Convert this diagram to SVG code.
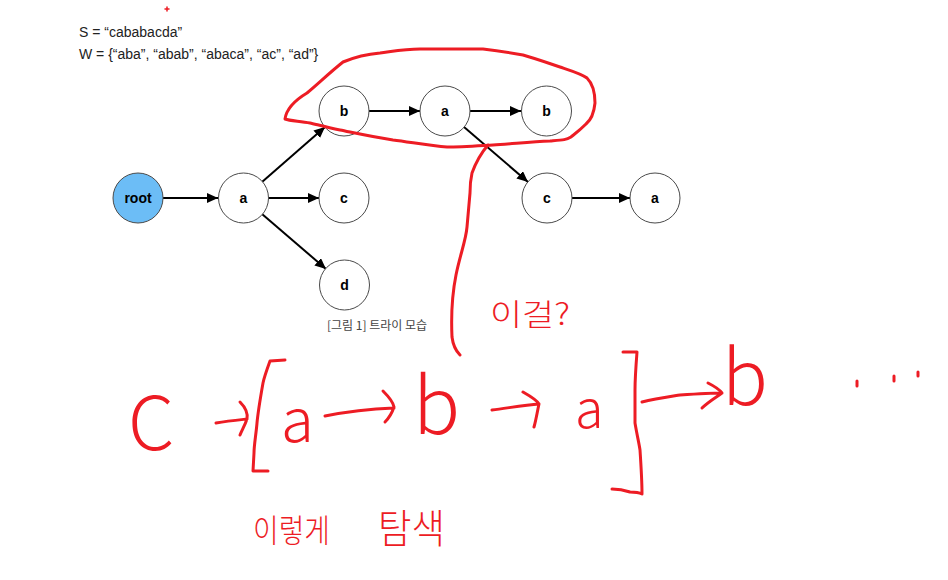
<svg xmlns="http://www.w3.org/2000/svg" width="948" height="580" viewBox="0 0 948 580">
<defs>
<marker id="ah" markerUnits="userSpaceOnUse" markerWidth="11" markerHeight="10" refX="11" refY="5" orient="auto">
<path d="M0,0 L11,5 L0,10 z" fill="#000"/>
</marker>
<style>
.node circle{fill:#fff;stroke:#4a4a4a;stroke-width:1}
.node text{font-family:"Liberation Sans",Arial,sans-serif;font-size:14px;font-weight:bold;fill:#000;text-anchor:middle;dominant-baseline:central}
.edge{stroke:#000;stroke-width:2;fill:none;marker-end:url(#ah)}
.hd{font-family:"Liberation Sans",Arial,sans-serif;font-size:14px;fill:#222}
.red{stroke:#ED1C24;stroke-width:3;fill:none;stroke-linecap:round;stroke-linejoin:round}
.hw{font-family:"Noto Sans CJK KR","Noto Sans",sans-serif;font-weight:300;fill:#ED1C24}
</style>
</defs>
<rect width="948" height="580" fill="#fff"/>
<text class="hd" x="79" y="37">S = “cababacda”</text>
<text class="hd" x="79" y="59">W = {“aba”, “abab”, “abaca”, “ac”, “ad”}</text>
<g id="edges">
<line class="edge" x1="163" y1="198" x2="218" y2="198"/>
<line class="edge" x1="262" y1="182" x2="325" y2="127"/>
<line class="edge" x1="268" y1="198" x2="319" y2="198"/>
<line class="edge" x1="262" y1="214" x2="326" y2="269"/>
<line class="edge" x1="369" y1="111" x2="420" y2="111"/>
<line class="edge" x1="470" y1="111" x2="521" y2="111"/>
<line class="edge" x1="464" y1="127" x2="528" y2="182"/>
<line class="edge" x1="572" y1="198" x2="630" y2="198"/>
</g>
<g id="n-root" class="node"><circle cx="138" cy="198" r="25" style="fill:#6CBDF6"/><text x="138" y="198">root</text></g>
<g id="n-a" class="node"><circle cx="243.5" cy="198" r="25"/><text x="243.5" y="198">a</text></g>
<g id="n-ab" class="node"><circle cx="344" cy="111" r="25"/><text x="344" y="111">b</text></g>
<g id="n-ac" class="node"><circle cx="344" cy="198" r="25"/><text x="344" y="198">c</text></g>
<g id="n-ad" class="node"><circle cx="344.5" cy="285" r="25"/><text x="344.5" y="285">d</text></g>
<g id="n-aba" class="node"><circle cx="445" cy="111" r="25"/><text x="445" y="111">a</text></g>
<g id="n-abab" class="node"><circle cx="546.5" cy="111" r="25"/><text x="546.5" y="111">b</text></g>
<g id="n-abac" class="node"><circle cx="547" cy="198" r="25"/><text x="547" y="198">c</text></g>
<g id="n-abaca" class="node"><circle cx="655" cy="198" r="25"/><text x="655" y="198">a</text></g>
<text x="327" y="330" style="font-family:'Noto Sans CJK KR','Noto Sans',sans-serif;font-size:12px;fill:#444">[그림 1] 트라이 모습</text>
<g id="annotations">
<path class="red" style="stroke-width:1.5" d="M165,9 L169,9 M167,7 L167,11"/>
<path class="red" d="M285,119 C286,112 292,102 307,93 C318,84 328,74 343,62 C355,57 368,54 380,53 C395,51 405,49 420,49 L483,49 C500,51 512,53 523,55 C537,59 548,63 560,67 C572,71 582,74 587,78 C593,84 595,93 595,103 C594,113 591,120 586,124 C580,130 576,133 571,137 C566,140 563,140 550,141 C530,142 510,144 493,145 C475,146 460,147 447,147 C430,146 410,142 393,140 C373,137 355,133 340,130 C325,127 315,124 310,123 C300,121 290,121 285,119 Z"/>
<path class="red" d="M488,145 C482,152 476,162 472,173 C470,182 470,188 470,193 C469,205 468,215 467,227 C466,240 460,255 456,275 C452,295 451,315 452,337 C453,345 455,350 460,355"/>
<text class="hw" x="490" y="325" font-size="30" textLength="80" lengthAdjust="spacingAndGlyphs">이걸?</text>
<text class="hw" x="128" y="450" font-size="74">C</text>
<path class="red" d="M216,423 C228,421 238,420 247,419 M240,402 C245,407 248,413 247,419 C245,425 242,430 240,435"/>
<path class="red" d="M285,360 L270,361 C266,372 264,378 263,383 C260,400 258,412 257,423 C256,435 254,445 254,453 L253,471 L268,471"/>
<text class="hw" x="281" y="442" font-size="60">a</text>
<path class="red" d="M325,416 C345,412 370,409 394,408 M383,391 C388,396 393,401 394,407 C392,413 389,418 385,422"/>
<text class="hw" x="413" y="434" font-size="78">b</text>
<path class="red" d="M492,410 C508,408 525,405 539,404 M523,392 C530,396 537,400 539,404 C537,413 536,420 534,427"/>
<text class="hw" x="575" y="428" font-size="52">a</text>
<path class="red" d="M623,352 L637,352 C636,365 635,378 635,390 C635,402 635,413 635,423 C637,435 639,443 640,450 C641,465 642,480 642,494 C638,492 634,492 630,492 C624,490 618,489 612,489"/>
<path class="red" d="M642,402 C655,399 668,397 680,395 C695,394 710,393 722,393 M708,383 C714,386 719,389 722,393 C715,398 708,402 702,408"/>
<text class="hw" x="722" y="405" font-size="76">b</text>
<path class="red" d="M857,381 L857,386 M894,376 L894,381 M918,372 L918,376"/>
<text class="hw" x="253" y="542" font-size="32" textLength="77" lengthAdjust="spacingAndGlyphs">이렇게</text>
<text class="hw" x="378" y="543" font-size="40" textLength="67" lengthAdjust="spacingAndGlyphs">탐색</text>
</g>
</svg>
